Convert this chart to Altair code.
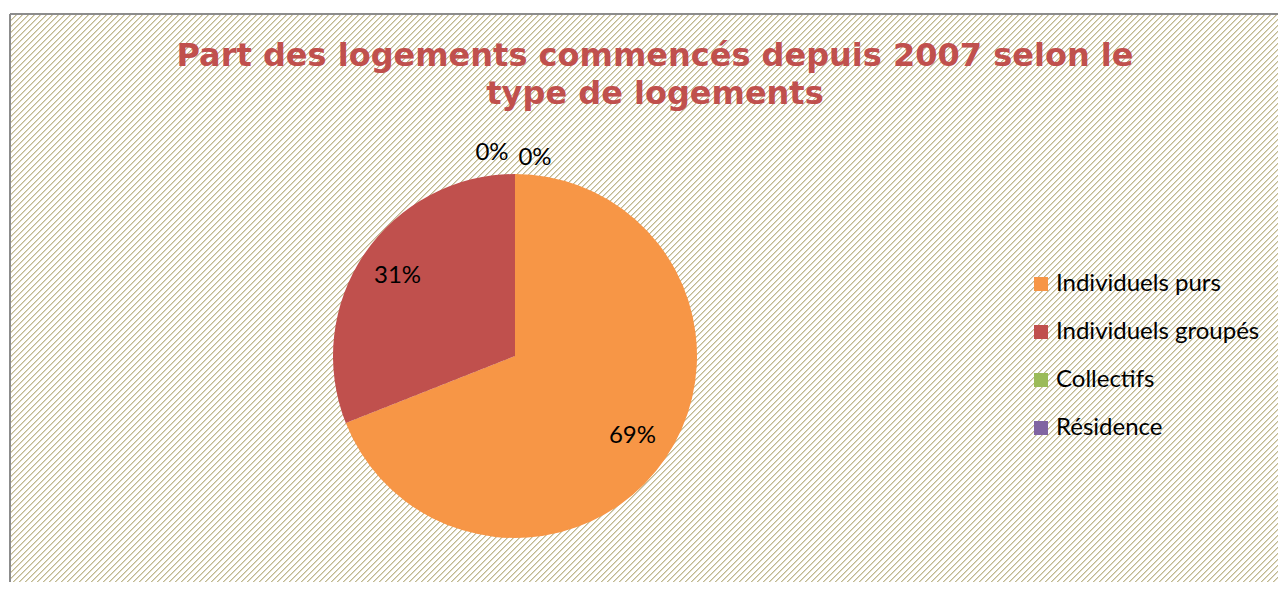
import altair as alt
import pandas as pd

categories = ["Individuels purs", "Individuels groupés", "Collectifs", "Résidence"]
shares = [69, 31, 0, 0]
colors = ["#f79646", "#c0504d", "#9bbb59", "#8064a2"]
title_lines = ["Part des logements commencés depuis 2007 selon le", "type de logements"]

W, H = 1268, 568
CX, CY = 505, 342
R = 182

df = pd.DataFrame({"type": categories, "share": shares, "rank": list(range(len(categories)))})

# diagonal hatch background as a hard-stop linear gradient (period 6px along x+y)
period = 6
span = W + H
dark, light, white = "#c0b890", "#dcd7c0", "#ffffff"
stops = [{"offset": 0, "color": white}]
n = 0
while True:
    a = (n * period + 0.5) / span
    m = (n * period + 1.5) / span
    b = (n * period + 2.5) / span
    if b >= 1:
        break
    stops += [
        {"offset": a, "color": white},
        {"offset": a, "color": dark},
        {"offset": m, "color": dark},
        {"offset": m, "color": light},
        {"offset": b, "color": light},
        {"offset": b, "color": white},
    ]
    n += 1
stops.append({"offset": 1, "color": white})
r = H / W
k = (W + H) / (W * (1 + r * r))
grad = {"gradient": "linear", "x1": 0, "y1": 0, "x2": k, "y2": k * r, "stops": stops}

one = alt.Data(values=[{"a": 1}])

bg = alt.Chart(one).mark_rect(fill=grad, strokeWidth=0).encode(
    x=alt.value(0), x2=alt.value(W), y=alt.value(0), y2=alt.value(H)
)
left_border = alt.Chart(one).mark_rule(color="#8c8c8c", strokeWidth=2).encode(
    x=alt.value(0), y=alt.value(0), y2=alt.value(H)
)
top_border = alt.Chart(one).mark_rule(color="#8c8c8c", strokeWidth=2).encode(
    x=alt.value(0), x2=alt.value(W), y=alt.value(0)
)

title = alt.Chart(one).mark_text(
    font="DejaVu Sans", fontWeight="bold", fontSize=32, color="#c0504d",
    align="center", baseline="alphabetic", lineBreak="\n", lineHeight=38
).encode(x=alt.value(645), y=alt.value(52), text=alt.value("\n".join(title_lines)))

base = alt.Chart(df).encode(
    theta=alt.Theta("share:Q", stack=True),
    order=alt.Order("rank:Q"),
    x=alt.value(CX),
    y=alt.value(CY),
)

pie = base.mark_arc(outerRadius=R).encode(
    color=alt.Color(
        "type:N",
        scale=alt.Scale(domain=categories, range=colors),
        legend=alt.Legend(
            title=None, orient="none", legendX=1019, legendY=258,
            symbolType="square", symbolSize=196, symbolStrokeWidth=0,
            labelFont="Lato", labelFontSize=24, labelColor="black", labelLimit=400,
            rowPadding=24, labelOffset=3, padding=0,
        ),
    )
)

labels = base.transform_filter("datum.share > 0").transform_calculate(
    lbl="datum.share + '%'"
).mark_text(radius=142, font="Lato", fontSize=24, color="black",
            align="center", baseline="middle").encode(text="lbl:N")

zero_left = base.transform_filter("datum.type == 'Collectifs'").transform_calculate(
    lbl="datum.share + '%'"
).mark_text(radius=202, dx=-23, dy=-1, font="Lato", fontSize=24, color="black",
            align="center", baseline="middle").encode(text="lbl:N")

zero_right = base.transform_filter("datum.type == 'Résidence'").transform_calculate(
    lbl="datum.share + '%'"
).mark_text(radius=199, dx=20, dy=1, font="Lato", fontSize=24, color="black",
            align="center", baseline="middle").encode(text="lbl:N")

chart = alt.layer(bg, left_border, top_border, title, pie, labels, zero_left, zero_right).properties(
    width=W, height=H, autosize="none",
    padding={"left": 2, "top": 6, "right": 0, "bottom": 0},
    background="white",
).configure_view(stroke="transparent")

chart.save("out.html", embed_options={"renderer": "svg", "actions": False})
